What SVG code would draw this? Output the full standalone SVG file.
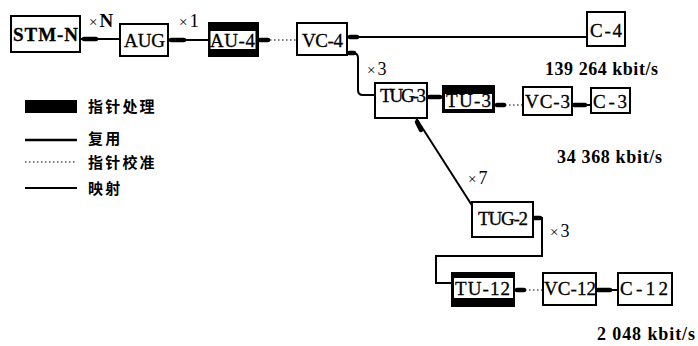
<svg xmlns="http://www.w3.org/2000/svg" width="698" height="346" viewBox="0 0 698 346">
<style>
.box{fill:#fff;stroke:#000;stroke-width:2}
.blk{fill:#000}
.in{fill:#fff}
.t{font-family:"Liberation Serif",serif;font-size:19px;fill:#000;stroke:#000;stroke-width:0.3}
.r{font-family:"Liberation Serif",serif;font-size:18px;fill:#000}
.cn{font-family:"Noto Sans CJK SC",sans-serif;font-size:15px;font-weight:bold;letter-spacing:2.2px;fill:#000}
.ln{fill:none;stroke:#000;stroke-width:2}
.dot{fill:none;stroke:#000;stroke-width:1.2;stroke-dasharray:1.5 2.5}
.hd{fill:none;stroke:#000;stroke-width:4.5;stroke-linecap:round}
</style>
<rect width="698" height="346" fill="#fff"/>
<g id="connectors">
<line class="ln" x1="80" y1="39" x2="120" y2="39"/><line class="hd" x1="84" y1="39" x2="96" y2="39"/>
<line class="ln" x1="168" y1="40" x2="208" y2="40"/><line class="hd" x1="171" y1="40" x2="184" y2="40"/>
<line class="dot" x1="262" y1="40" x2="297" y2="40"/><line class="hd" x1="260" y1="40" x2="268" y2="40"/>
<line class="ln" x1="587" y1="37" x2="347" y2="37"/><line class="hd" x1="350" y1="37" x2="357" y2="37"/>
<path class="ln" d="M347 53 H353 Q358 53 358 58 V90 Q358 95 363 95 H375"/><line class="hd" x1="349" y1="53" x2="354" y2="53"/>
<line class="ln" x1="427" y1="97" x2="442" y2="97"/><line class="hd" x1="429" y1="97" x2="440" y2="97"/>
<line class="dot" x1="497" y1="105" x2="523" y2="105"/><line class="hd" x1="497" y1="105" x2="504" y2="105"/>
<line class="ln" x1="572" y1="105" x2="591" y2="105"/><line class="hd" x1="574" y1="105" x2="585" y2="105"/>
<line class="ln" x1="416" y1="118" x2="473" y2="207"/><line class="hd" x1="417" y1="122" x2="421" y2="130"/>
<path class="ln" d="M533 218 H542 V256 H436 V283 H451"/><line class="hd" x1="534" y1="218" x2="540" y2="218"/>
<line class="dot" x1="517" y1="290" x2="543" y2="290"/><line class="hd" x1="517" y1="290" x2="524" y2="290"/>
<line class="ln" x1="596" y1="290" x2="618" y2="290"/><line class="hd" x1="598" y1="290" x2="610" y2="290"/>
</g>
<g id="STM-N"><rect class="box" x="11" y="16" width="69" height="36"/><text class="t" x="13" y="41" font-weight="bold" textLength="65">STM-N</text></g>
<g id="AUG"><rect class="box" x="120" y="24" width="48" height="32"/><text class="t" x="124" y="47" textLength="41">AUG</text></g>
<g id="AU-4"><rect class="blk" x="208" y="22" width="51" height="35"/><rect class="in" x="210.5" y="31" width="45" height="18"/><text class="t" x="210" y="47" textLength="45">AU-4</text></g>
<g id="VC-4"><rect class="box" x="297" y="23" width="50" height="32"/><text class="t" x="302" y="47" textLength="41">VC-4</text></g>
<g id="C-4"><rect class="box" x="587" y="12" width="38" height="34"/><text class="t" x="590" y="37" textLength="32">C-4</text></g>
<g id="TUG-3"><rect class="box" x="375" y="83" width="52" height="35"/><text class="t" x="380" y="102" font-size="17" textLength="46">TUG-3</text></g>
<g id="TU-3"><rect class="blk" x="442" y="85" width="53" height="28"/><rect class="in" x="445" y="94" width="47" height="15"/><text class="t" x="446" y="107" textLength="45">TU-3</text></g>
<g id="VC-3"><rect class="box" x="523" y="87" width="49" height="28"/><text class="t" x="525" y="108" textLength="45">VC-3</text></g>
<g id="C-3"><rect class="box" x="591" y="88" width="39" height="25"/><text class="t" x="593" y="108" textLength="34">C-3</text></g>
<g id="TUG-2"><rect class="box" x="472" y="202" width="61" height="35"/><text class="t" x="478" y="225" font-size="18" textLength="50">TUG-2</text></g>
<g id="TU-12"><rect class="blk" x="451" y="272" width="64" height="35"/><rect class="in" x="454" y="278" width="59" height="20"/><text class="t" x="455" y="295" textLength="55">TU-12</text></g>
<g id="VC-12"><rect class="box" x="543" y="273" width="53" height="32"/><text class="t" x="544" y="295" textLength="52">VC-12</text></g>
<g id="C-12"><rect class="box" x="618" y="273" width="54" height="32"/><text class="t" x="620" y="295" textLength="48">C-12</text></g>
<g id="labels">
<text class="r" x="89" y="27"><tspan font-size="15">×</tspan><tspan font-weight="bold" dx="2" font-size="19">N</tspan></text>
<text class="r" x="179" y="27"><tspan font-size="15">×</tspan><tspan dx="2" font-size="19">1</tspan></text>
<text class="r" x="367" y="75"><tspan font-size="15">×</tspan><tspan dx="2">3</tspan></text>
<text class="r" x="468" y="184"><tspan font-size="15">×</tspan><tspan dx="2">7</tspan></text>
<text class="r" x="550" y="237"><tspan font-size="15">×</tspan><tspan dx="2">3</tspan></text>
<text class="r" x="545" y="75" font-weight="bold" textLength="113">139 264 kbit/s</text>
<text class="r" x="557" y="163" font-weight="bold" textLength="105">34 368 kbit/s</text>
<text class="r" x="597" y="340" font-weight="bold" textLength="98">2 048 kbit/s</text>
</g>
<g id="legend">
<rect class="blk" x="25" y="100" width="52" height="13"/>
<text class="cn" x="88" y="112">指针处理</text>
<line x1="25" y1="140" x2="77" y2="140" stroke="#000" stroke-width="2.5"/>
<text class="cn" x="88" y="144">复用</text>
<line class="dot" x1="25" y1="162" x2="77" y2="162"/>
<text class="cn" x="88" y="168">指针校准</text>
<line x1="25" y1="188" x2="77" y2="188" stroke="#000" stroke-width="1.8"/>
<text class="cn" x="88" y="194">映射</text>
</g>
</svg>
